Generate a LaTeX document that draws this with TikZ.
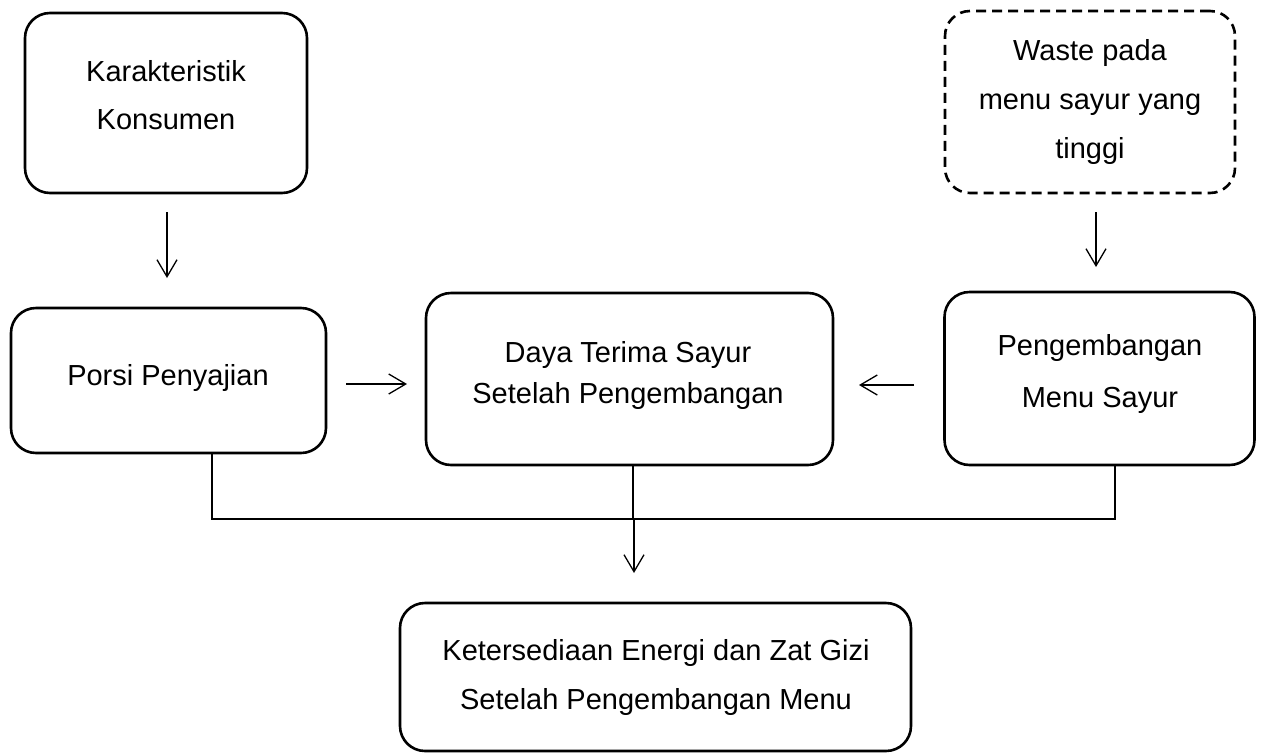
\documentclass[tikz,border=0pt]{standalone}
\usepackage{fontspec}
\setmainfont{Liberation Sans}
\usetikzlibrary{arrows.meta}
\begin{document}
\begin{tikzpicture}[x=1pt,y=-1pt,
  box/.style={draw=black, line width=2.6pt, rounded corners=25pt, inner sep=0pt},
  dbox/.style={box, dash pattern=on 10pt off 6pt},
  txt/.style={align=center, inner sep=0pt},
  link/.style={line width=1.4pt},
  arr/.style={line width=1.3pt, -{Straight Barb[length=17pt,width=20pt,line width=1.3pt]}}]
\useasboundingbox[fill=white] (0,0) rectangle (1264,753);

% boxes
\node[box, minimum width=282pt, minimum height=180pt] (kar) at (166,103) {};
\node[dbox, minimum width=290pt, minimum height=182pt] (waste) at (1090,102) {};
\node[box, minimum width=315pt, minimum height=145pt] (porsi) at (168.5,380.5) {};
\node[box, minimum width=407pt, minimum height=172pt] (daya) at (629.5,379) {};
\node[box, minimum width=310pt, minimum height=173pt] (penge) at (1099.5,378.5) {};
\node[box, minimum width=511pt, minimum height=148pt] (ket) at (655.5,677) {};

% texts
\node[txt, font=\fontsize{29}{48}\selectfont] (kart) at (166,95.5) {Karakteristik\\Konsumen};
\node[txt, font=\fontsize{29}{49}\selectfont] (wastet) at (1090,102) {Waste pada\\menu sayur yang\\tinggi};
\node[txt, font=\fontsize{29}{48}\selectfont] (porsit) at (168,377.5) {Porsi Penyajian};
\node[txt, font=\fontsize{29}{41}\selectfont] (dayat) at (628,375) {Daya Terima Sayur\\Setelah Pengembangan};
\node[txt, font=\fontsize{29}{52}\selectfont] (penget) at (1100,373.5) {Pengembangan\\Menu Sayur};
\node[txt, font=\fontsize{29}{49}\selectfont] (kett) at (656,677) {Ketersediaan Energi dan Zat Gizi\\Setelah Pengembangan Menu};

% free arrow ends
\coordinate (a1s) at (167,212);
\coordinate (a1e) at (167,278);
\coordinate (a2s) at (1096,212);
\coordinate (a2e) at (1096,267);
\coordinate (a3s) at (346,384);
\coordinate (a3e) at (407,384);
\coordinate (a4s) at (914,385);
\coordinate (a4e) at (859,385);
\coordinate (jl) at (212,519);
\coordinate (jr) at (1115,519);
\coordinate (jm) at (633,519);
\coordinate (a5e) at (634,573);

\draw[arr] (a1s) -- (a1e);
\draw[arr] (a2s) -- (a2e);
\draw[arr] (a3s) -- (a3e);
\draw[arr] (a4s) -- (a4e);

\draw[link] (porsi.south -| jl) -- (jl) -- (jr) -- (penge.south -| jr);
\draw[link] (daya.south -| jm) -- (jm);
\draw[arr] (634,519) -- (a5e);
\end{tikzpicture}
\end{document}
